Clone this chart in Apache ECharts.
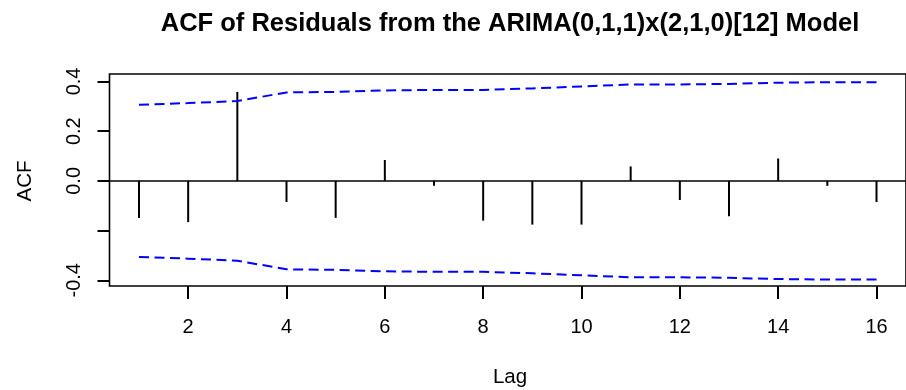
<!DOCTYPE html>
<html>
<head>
<meta charset="utf-8">
<script src="https://cdn.jsdelivr.net/npm/echarts@6/dist/echarts.min.js"></script>
<style>
  html, body { margin: 0; padding: 0; background: #fff; }
  #main { width: 906px; height: 390px; }
</style>
</head>
<body>
<div id="main"></div>
<script>
// lags and residual autocorrelations
var lags = [1, 2, 3, 4, 5, 6, 7, 8, 9, 10, 11, 12, 13, 14, 15, 16];
var acfValues = [-0.149, -0.166, 0.358, -0.085, -0.149, 0.084, -0.020, -0.160,
                 -0.176, -0.176, 0.058, -0.077, -0.142, 0.090, -0.020, -0.085];
// confidence bounds (MA type)
var ciUpper = [0.306, 0.313, 0.321, 0.356, 0.358, 0.364, 0.366, 0.366,
               0.372, 0.380, 0.388, 0.388, 0.390, 0.395, 0.397, 0.397];
var ciLower = [-0.306, -0.313, -0.321, -0.356, -0.358, -0.364, -0.366, -0.366,
               -0.372, -0.380, -0.388, -0.388, -0.390, -0.395, -0.397, -0.397];
// tick labels
var xTicks = [2, 4, 6, 8, 10, 12, 14, 16];
var yTicks = [-0.4, -0.2, 0.0, 0.2, 0.4];
var yLabels = [-0.4, 0.0, 0.2, 0.4];

var FONT = '"Liberation Sans", Arial, sans-serif';

function pairs(xs, ys) {
    return xs.map(function (x, i) { return [x, ys[i]]; });
}

// vertical spike from 0 to the acf value
function renderSpike(params, api) {
    var top = api.coord([api.value(0), api.value(1)]);
    var base = api.coord([api.value(0), 0]);
    return {
        type: 'line',
        shape: { x1: base[0], y1: base[1], x2: top[0], y2: top[1] },
        style: { stroke: '#000', lineWidth: 2 }
    };
}

var myChart = echarts.init(document.getElementById('main'));
myChart.setOption({
    animation: false,
    backgroundColor: '#fff',
    grid: {
        left: 109.5,
        top: 74,
        width: 803,
        height: 212,
        show: true,
        borderColor: '#000',
        borderWidth: 1.6,
        backgroundColor: 'transparent'
    },
    graphic: [
        {
            type: 'text', x: 510, y: 24,
            style: { text: 'ACF of Residuals from the ARIMA(0,1,1)x(2,1,0)[12] Model',
                     font: 'bold 25.5px ' + FONT, fill: '#000', align: 'center', verticalAlign: 'middle' }
        },
        {
            type: 'text', x: 510, y: 377,
            style: { text: 'Lag', font: '20.5px ' + FONT, fill: '#000', align: 'center', verticalAlign: 'middle' }
        },
        {
            type: 'text', x: 25, y: 181, rotation: Math.PI / 2,
            style: { text: 'ACF', font: '20.5px ' + FONT, fill: '#000', align: 'center', verticalAlign: 'middle' }
        }
    ],
    xAxis: {
        type: 'value',
        min: 0.4,
        max: 16.6,
        splitLine: { show: false },
        axisLine: { show: false, onZero: false },
        axisTick: { show: true, length: 13, customValues: xTicks,
                    lineStyle: { color: '#000', width: 2 } },
        axisLabel: { customValues: xTicks, margin: 31, color: '#000', fontSize: 20, fontFamily: FONT }
    },
    yAxis: {
        type: 'value',
        min: -0.423,
        max: 0.430,
        splitLine: { show: false },
        axisLine: { show: false, onZero: false },
        axisTick: { show: true, length: 12, customValues: yTicks,
                    lineStyle: { color: '#000', width: 2 } },
        axisLabel: {
            customValues: yLabels,
            rotate: 90,
            margin: 25,
            color: '#000',
            fontSize: 20,
            fontFamily: FONT,
            formatter: function (v) { return v.toFixed(1); }
        }
    },
    series: [
        {
            name: 'ACF',
            type: 'custom',
            renderItem: renderSpike,
            data: pairs(lags, acfValues),
            markLine: {
                silent: true,
                symbol: ['none', 'none'],
                label: { show: false },
                lineStyle: { color: '#000', width: 1.6, type: 'solid' },
                data: [{ yAxis: 0 }]
            }
        },
        {
            name: 'upper',
            type: 'line',
            showSymbol: false,
            lineStyle: { color: '#0000ff', width: 2, type: [10, 5.5] },
            data: pairs(lags, ciUpper)
        },
        {
            name: 'lower',
            type: 'line',
            showSymbol: false,
            lineStyle: { color: '#0000ff', width: 2, type: [10, 5.5] },
            data: pairs(lags, ciLower)
        }
    ]
});
</script>
</body>
</html>
